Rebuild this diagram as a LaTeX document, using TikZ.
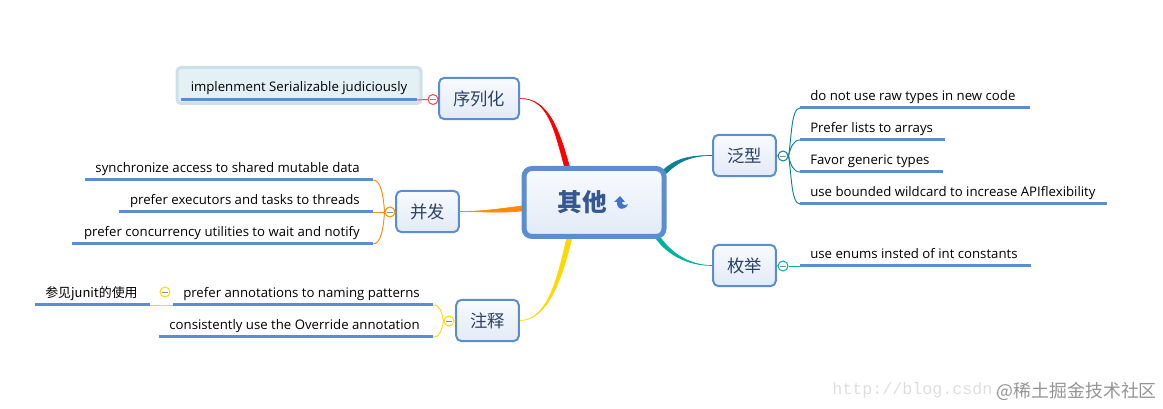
\documentclass[tikz,border=0pt]{standalone}
\usepackage{fontspec}
\usetikzlibrary{backgrounds}
\setmainfont{Open Sans}
\newfontfamily\cjk{Noto Sans CJK SC}
\newfontfamily\wmono{Liberation Mono}
\definecolor{RULEBLUE}{HTML}{5A8DD2}
\definecolor{INK}{HTML}{2B4166}
\definecolor{HEADINK}{HTML}{34588F}
\definecolor{TEAL}{HTML}{0A8296}
\definecolor{SEA}{HTML}{00B3A0}
\definecolor{ORANGE}{HTML}{FF8C00}
\definecolor{GOLD}{HTML}{FFD800}
\definecolor{SELFILL}{HTML}{E3F0F5}
\definecolor{SELEDGE}{HTML}{CFDFEA}
\definecolor{ICON}{HTML}{3F73CC}
\tikzset{
TOPIC/.style={draw=RULEBLUE,line width=1.5pt,rounded corners=4pt,top color=white!96!RULEBLUE,bottom color=RULEBLUE!18!white,minimum height=31pt,inner sep=0pt,text=INK,font=\cjk\fontsize{13}{13}\selectfont},
HEAD/.style={TOPIC,line width=3.75pt,rounded corners=6pt,minimum width=105pt,minimum height=51pt,text=HEADINK,font=\cjk\bfseries\fontsize{18.5}{18.5}\selectfont},
LEAF/.style={inner sep=0pt,text=black,text height=10.5pt,text depth=2pt,font=\fontsize{9.9}{10}\selectfont},
SELECT/.style={draw=SELEDGE,fill=SELFILL,line width=2.25pt,rounded corners=3pt,minimum width=183pt,minimum height=27pt},
RULE/.style={draw=RULEBLUE,line width=2.25pt},
FORK/.style={draw=#1,line width=0.7pt},
KNOB/.style={circle,draw=#1,fill=white,line width=0.75pt,minimum size=7.5pt,inner sep=0pt,
	path picture={\draw[black!45,line width=0.6pt] ([xshift=-2pt]path picture bounding box.center) -- ([xshift=2pt]path picture bounding box.center);}},
}
\newcommand{\taper}[6]{\path[fill=#1,draw=#1,line width=0.5pt] (#2) .. controls +#3 and +#4 .. ([shift={(#5)}]main.center) -- ([shift={(#6)}]main.center) .. controls +#4 and +#3 .. (#2) -- cycle;}
\begin{document}
\begin{tikzpicture}[x=0.75pt,y=-0.75pt]
	\useasboundingbox (0,0) rectangle (1163,409);
	%Topics
	\node[HEAD] (main) at (594,202.5) {\hspace{-17.5pt}其他};
	\node[TOPIC,minimum width=60pt] (serial) at (479,98.5) {序列化};
	\node[TOPIC,minimum width=47pt] (conc) at (427.5,211.5) {并发};
	\node[TOPIC,minimum width=47pt] (note) at (487.5,320.5) {注释};
	\node[TOPIC,minimum width=47pt] (generic) at (744.5,155.5) {泛型};
	\node[TOPIC,minimum width=47pt] (enum) at (744.5,265.5) {枚举};
	%Branches
	\begin{pgfonlayer}{background}
		\taper{red}{serial.east}{(28,0)}{(-12,-45)}{-28,-30}{-23,-30}
		\taper{ORANGE}{conc.east}{(25,0)}{(-25,3)}{-68,3}{-68,8}
		\taper{GOLD}{note.east}{(28,0)}{(-10,45)}{-26,30}{-21,30}
		\taper{TEAL}{generic.west}{(-23,0)}{(14,-16)}{65,-28}{67.5,-24}
		\taper{SEA}{enum.west}{(-25,0)}{(12,20)}{59,31.5}{62,28.5}
	\end{pgfonlayer}
	\fill[ICON] (614,202) -- (620,196) -- (625,202) -- (622,202)
		.. controls (622,205) and (625,206) .. (628,204)
		.. controls (627,208) and (622,210) .. (619,208)
		.. controls (617,206) and (617,204) .. (617,202) -- cycle;
	%Serializable
	\node[LEAF,SELECT] (sa) at (299,85.5) {implenment Serializable judiciously};
	\coordinate (sa1) at (181,100);
	\coordinate (sa2) at (417,100);
	\node[KNOB=red!75] (ks) at (433,99.5) {};
	\path[FORK=red!75] (sa2) -- (ks.west);
	\path[FORK=red!75] (ks.east) -- (serial.west);
	\path[RULE] (sa1) -- (sa2);
	%Concurrency
	\node[LEAF,anchor=east] (ca) at (360,167) {synchronize access to shared mutable data};
	\node[LEAF,anchor=east] (cb) at (360,199) {prefer executors and tasks to threads};
	\node[LEAF,anchor=east] (cc) at (360,231) {prefer concurrency utilities to wait and notify};
	\coordinate (ca1) at (85,180);
	\coordinate (ca2) at (373,180);
	\coordinate (cb1) at (119,212);
	\coordinate (cb2) at (373,212);
	\coordinate (cc1) at (72,244);
	\coordinate (cc2) at (373,244);
	\node[KNOB=ORANGE] (kc) at (390,212) {};
	\path[FORK=ORANGE] (kc.east) -- (conc.west);
	\path[FORK=ORANGE] (kc.west) -- (cb2);
	\path[FORK=ORANGE] (kc.west) .. controls +(-1,-16) and +(8,0) .. (ca2);
	\path[FORK=ORANGE] (kc.west) .. controls +(-1,16) and +(8,0) .. (cc2);
	\path[RULE] (ca1) -- (ca2);
	\path[RULE] (cb1) -- (cb2);
	\path[RULE] (cc1) -- (cc2);
	%Annotations
	\node[LEAF,anchor=east] (na) at (420,292) {prefer annotations to naming patterns};
	\node[LEAF,anchor=east] (nb) at (420,324) {consistently use the Override annotation};
	\node[LEAF,anchor=west,font=\cjk\fontsize{9.7}{10}\selectfont] (nc) at (45,292) {参见junit的使用};
	\coordinate (na1) at (173,305);
	\coordinate (na2) at (433,305);
	\coordinate (nb1) at (159,337);
	\coordinate (nb2) at (433,337);
	\coordinate (nc1) at (35,305);
	\coordinate (nc2) at (150,305);
	\node[KNOB=GOLD] (kn) at (449,321) {};
	\node[KNOB=GOLD] (km) at (165,292) {};
	\path[FORK=GOLD] (kn.east) -- (note.west);
	\path[FORK=GOLD] (kn.west) .. controls +(-2,-8) and +(8,0) .. (na2);
	\path[FORK=GOLD] (kn.west) .. controls +(-2,8) and +(8,0) .. (nb2);
	\path[FORK=GOLD,line width=0.5pt] (nc2) -- (na1);
	\path[RULE] (na1) -- (na2);
	\path[RULE] (nb1) -- (nb2);
	\path[RULE] (nc1) -- (nc2);
	%Generics
	\node[LEAF,anchor=west] (ga) at (810,95) {do not use raw types in new code};
	\node[LEAF,anchor=west] (gb) at (810,127) {Prefer lists to arrays};
	\node[LEAF,anchor=west] (gc) at (810,159) {Favor generic types};
	\node[LEAF,anchor=west] (gd) at (810,191) {use bounded wildcard to increase APIflexibility};
	\coordinate (ga1) at (800,108);
	\coordinate (ga2) at (1030,108);
	\coordinate (gb1) at (800,140);
	\coordinate (gb2) at (945,140);
	\coordinate (gc1) at (800,172);
	\coordinate (gc2) at (943,172);
	\coordinate (gd1) at (800,204);
	\coordinate (gd2) at (1107,204);
	\node[KNOB=TEAL] (kg) at (783,156) {};
	\path[FORK=TEAL] (generic.east) -- (kg.west);
	\path[FORK=TEAL] (kg.east) .. controls +(3,-16) and +(-9,0) .. (ga1);
	\path[FORK=TEAL] (kg.east) .. controls +(2,-8) and +(-7,0) .. (gb1);
	\path[FORK=TEAL] (kg.east) .. controls +(2,8) and +(-7,0) .. (gc1);
	\path[FORK=TEAL] (kg.east) .. controls +(3,16) and +(-9,0) .. (gd1);
	\path[RULE] (ga1) -- (ga2);
	\path[RULE] (gb1) -- (gb2);
	\path[RULE] (gc1) -- (gc2);
	\path[RULE] (gd1) -- (gd2);
	%Enums
	\node[LEAF,anchor=west] (ea) at (810,253) {use enums insted of int constants};
	\coordinate (ea1) at (800,266);
	\coordinate (ea2) at (1031,266);
	\node[KNOB=SEA] (ke) at (783,266) {};
	\path[FORK=SEA] (enum.east) -- (ke.west);
	\path[FORK=SEA] (ke.east) -- (ea1);
	\path[RULE] (ea1) -- (ea2);
	%Watermark
	\node[anchor=west,inner sep=0pt,text=black!13,font=\wmono\fontsize{12.5}{13}\selectfont] (wa) at (832,390) {http://blog.csdn.};
	\node[anchor=east,inner sep=0pt,text=black!42,font=\cjk\fontsize{13.4}{14}\selectfont] (wb) at (1157,391) {@稀土掘金技术社区};
\end{tikzpicture}
\end{document}
